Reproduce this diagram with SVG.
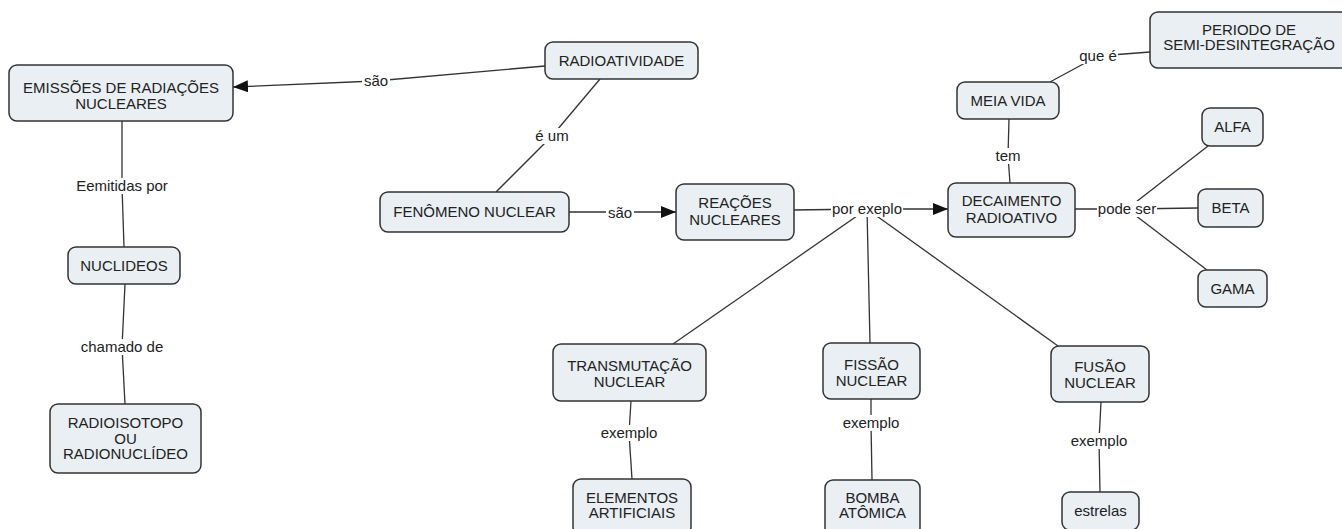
<svg xmlns="http://www.w3.org/2000/svg" width="1342" height="529" viewBox="0 0 1342 529">
<style>
.n rect{fill:#e9eff2;stroke:#333;stroke-width:1.5}
text{font-family:"Liberation Sans",Arial,sans-serif;font-size:15px;fill:#222;text-anchor:middle}
.c line{stroke:#333;stroke-width:1.3}
.l rect{fill:#fff}
</style>
<defs>
<marker id="ah" markerUnits="userSpaceOnUse" markerWidth="16" markerHeight="12" refX="15" refY="6" orient="auto">
<path d="M0,0 L15,6 L0,12 z" fill="#111"/>
</marker>
</defs>
<rect width="1342" height="529" fill="#fff"/>
<g class="c" id="connectors">
<line x1="545" y1="66" x2="375" y2="81"/>
<line x1="375" y1="81" x2="233" y2="87" marker-end="url(#ah)"/>
<line x1="600" y1="79" x2="552" y2="136"/>
<line x1="552" y1="136" x2="496" y2="192"/>
<line x1="569" y1="212" x2="620" y2="212"/>
<line x1="620" y1="212" x2="676" y2="212" marker-end="url(#ah)"/>
<line x1="794" y1="210" x2="867" y2="209"/>
<line x1="867" y1="209" x2="948" y2="209" marker-end="url(#ah)"/>
<line x1="867" y1="209" x2="673" y2="344"/>
<line x1="867" y1="209" x2="870" y2="343"/>
<line x1="867" y1="209" x2="1058" y2="346"/>
<line x1="1075" y1="209" x2="1127" y2="209"/>
<line x1="1127" y1="209" x2="1198" y2="208"/>
<line x1="1127" y1="209" x2="1208" y2="146"/>
<line x1="1127" y1="209" x2="1207" y2="270"/>
<line x1="1010" y1="183" x2="1008" y2="156"/>
<line x1="1008" y1="156" x2="1009" y2="119"/>
<line x1="1050" y1="82" x2="1098" y2="56"/>
<line x1="1098" y1="56" x2="1150" y2="52"/>
<line x1="122" y1="121" x2="122" y2="186"/>
<line x1="122" y1="186" x2="124" y2="247"/>
<line x1="125" y1="284" x2="122" y2="347"/>
<line x1="122" y1="347" x2="125" y2="404"/>
<line x1="631" y1="401" x2="629" y2="433"/>
<line x1="629" y1="433" x2="632" y2="479"/>
<line x1="871" y1="399" x2="871" y2="423"/>
<line x1="871" y1="423" x2="872" y2="480"/>
<line x1="1101" y1="402" x2="1099" y2="441"/>
<line x1="1099" y1="441" x2="1100" y2="492"/>
</g>
<g class="l" id="labels">
<rect x="362" y="73" width="28" height="16"/><text x="376" y="86">são</text>
<rect x="533" y="128" width="38" height="16"/><text x="552" y="141">é um</text>
<rect x="606" y="205" width="28" height="16"/><text x="620" y="218">são</text>
<rect x="831" y="201" width="72" height="16"/><text x="867" y="214">por exeplo</text>
<rect x="1097" y="201" width="60" height="16"/><text x="1127" y="214">pode ser</text>
<rect x="1078" y="48" width="40" height="16"/><text x="1098" y="61">que é</text>
<rect x="994" y="148" width="28" height="16"/><text x="1008" y="161">tem</text>
<rect x="75" y="178" width="94" height="16"/><text x="122" y="191">Eemitidas por</text>
<rect x="81" y="339" width="82" height="16"/><text x="122" y="352">chamado de</text>
<rect x="600" y="425" width="58" height="16"/><text x="629" y="438">exemplo</text>
<rect x="842" y="415" width="58" height="16"/><text x="871" y="428">exemplo</text>
<rect x="1070" y="433" width="58" height="16"/><text x="1099" y="446">exemplo</text>
</g>
<g class="n" id="n-emissoes"><rect x="9" y="65" width="224" height="56" rx="8"/><text x="121" y="93">EMISSÕES DE RADIAÇÕES</text><text x="121" y="109">NUCLEARES</text></g>
<g class="n" id="n-radioatividade"><rect x="545" y="42" width="153" height="37" rx="8"/><text x="621.5" y="66">RADIOATIVIDADE</text></g>
<g class="n" id="n-fenomeno"><rect x="380" y="192" width="189" height="40" rx="8"/><text x="474.5" y="217">FENÔMENO NUCLEAR</text></g>
<g class="n" id="n-reacoes"><rect x="676" y="184" width="118" height="56" rx="8"/><text x="735" y="208">REAÇÕES</text><text x="735" y="225">NUCLEARES</text></g>
<g class="n" id="n-decaimento"><rect x="948" y="183" width="127" height="54" rx="8"/><text x="1011.5" y="206">DECAIMENTO</text><text x="1011.5" y="223">RADIOATIVO</text></g>
<g class="n" id="n-meiavida"><rect x="957" y="82" width="102" height="37" rx="8"/><text x="1008" y="106">MEIA VIDA</text></g>
<g class="n" id="n-periodo"><rect x="1150" y="12" width="198" height="56" rx="8"/><text x="1249" y="35">PERIODO DE</text><text x="1249" y="50">SEMI-DESINTEGRAÇÃO</text></g>
<g class="n" id="n-alfa"><rect x="1202" y="108" width="61" height="38" rx="8"/><text x="1232.5" y="132">ALFA</text></g>
<g class="n" id="n-beta"><rect x="1198" y="189" width="65" height="38" rx="8"/><text x="1230.5" y="213">BETA</text></g>
<g class="n" id="n-gama"><rect x="1198" y="270" width="69" height="37" rx="8"/><text x="1232.5" y="294">GAMA</text></g>
<g class="n" id="n-nuclideos"><rect x="68" y="247" width="112" height="37" rx="8"/><text x="124" y="271">NUCLIDEOS</text></g>
<g class="n" id="n-radioisotopo"><rect x="50" y="404" width="151" height="69" rx="8"/><text x="125.5" y="428">RADIOISOTOPO</text><text x="125.5" y="444">OU</text><text x="125.5" y="459">RADIONUCLÍDEO</text></g>
<g class="n" id="n-transmutacao"><rect x="553" y="344" width="153" height="57" rx="8"/><text x="629.5" y="371">TRANSMUTAÇÃO</text><text x="629.5" y="387">NUCLEAR</text></g>
<g class="n" id="n-fissao"><rect x="823" y="343" width="97" height="56" rx="8"/><text x="871.5" y="370">FISSÃO</text><text x="871.5" y="386">NUCLEAR</text></g>
<g class="n" id="n-fusao"><rect x="1051" y="346" width="98" height="56" rx="8"/><text x="1100" y="372">FUSÃO</text><text x="1100" y="388">NUCLEAR</text></g>
<g class="n" id="n-elementos"><rect x="573" y="479" width="118" height="56" rx="8"/><text x="632" y="503">ELEMENTOS</text><text x="632" y="518">ARTIFICIAIS</text></g>
<g class="n" id="n-bomba"><rect x="825" y="480" width="95" height="56" rx="8"/><text x="872.5" y="503">BOMBA</text><text x="872.5" y="518">ATÔMICA</text></g>
<g class="n" id="n-estrelas"><rect x="1062" y="492" width="77" height="38" rx="8"/><text x="1100.5" y="516">estrelas</text></g>
</svg>
